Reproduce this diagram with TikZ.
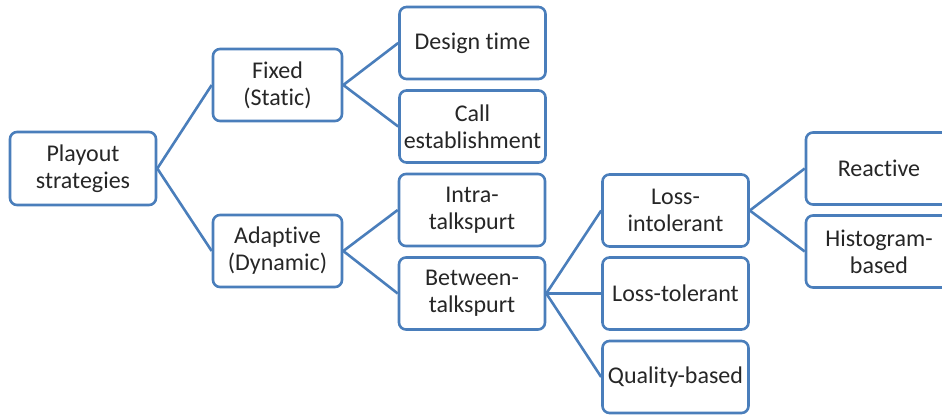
\documentclass[tikz,border=0pt]{standalone}
\usepackage{fontspec}
\setmainfont{Carlito}[Ligatures={NoCommon}]
\usepackage{tikz}
\definecolor{edgeblue}{HTML}{4A7EBB}
\definecolor{textgray}{HTML}{262626}
\tikzstyle{block} = [rectangle, draw=edgeblue, line width=2.6pt, rounded corners=7pt, align=center, inner sep=0pt, minimum width=146pt, minimum height=72pt, text=textgray, font=\fontsize{24pt}{27pt}\selectfont]
\tikzstyle{blocks} = [block, minimum width=129pt]
\tikzstyle{line} = [draw=edgeblue, line width=2.6pt]

\begin{document}
\begin{tikzpicture}[x=1pt, y=-1pt]
\useasboundingbox (0,0) rectangle (942,416);

\node [block, minimum height=73pt] (P) at (83,168.5) {Playout\\strategies};
\node [blocks] (F) at (277.5,85) {Fixed\\(Static)};
\node [blocks] (A) at (277.5,251) {Adaptive\\(Dynamic)};
\node [block] (D) at (472.5,43) {Design time};
\node [block] (C) at (472.5,126.5) {Call\\establishment};
\node [block] (I) at (472,210) {Intra-\\talkspurt};
\node [block] (B) at (472,293.5) {Between-\\talkspurt};
\node [block] (LI) at (675.5,210.5) {Loss-\\intolerant};
\node [block] (LT) at (675.5,293.5) {Loss-tolerant};
\node [block] (Q) at (675.5,377) {Quality-based};
\node [block] (R) at (879,168.5) {Reactive};
\node [block] (H) at (879,251.5) {Histogram-\\based};

\path [line] (P.east) -- (F.west);
\path [line] (P.east) -- (A.west);
\path [line] (F.east) -- (D.west);
\path [line] (F.east) -- (C.west);
\path [line] (A.east) -- (I.west);
\path [line] (A.east) -- (B.west);
\path [line] (B.east) -- (LI.west);
\path [line] (B.east) -- (LT.west);
\path [line] (B.east) -- (Q.west);
\path [line] (LI.east) -- (R.west);
\path [line] (LI.east) -- (H.west);

\end{tikzpicture}
\end{document}
